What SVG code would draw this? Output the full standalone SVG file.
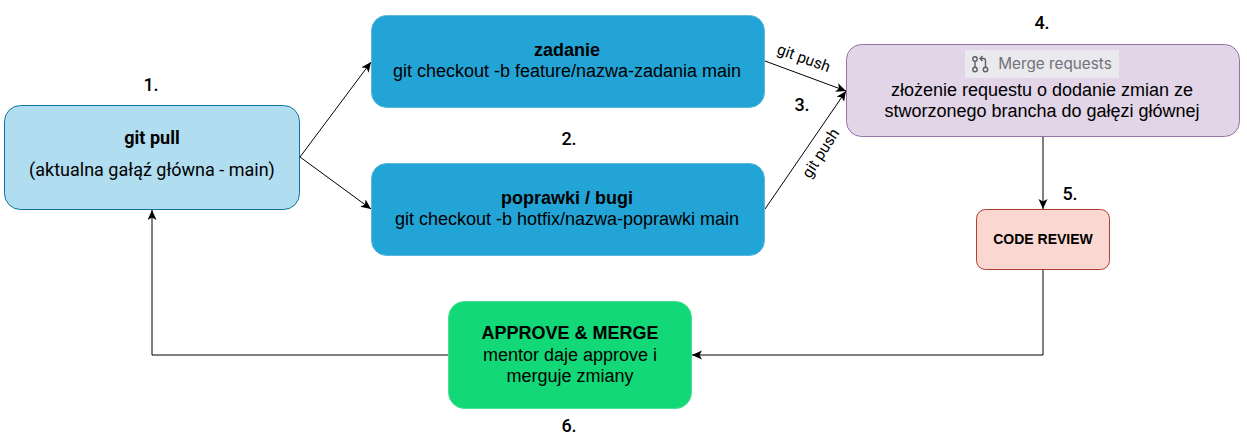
<svg xmlns="http://www.w3.org/2000/svg" width="1247" height="442" viewBox="0 0 1247 442">
<defs>
<marker id="arr" markerUnits="userSpaceOnUse" markerWidth="11" markerHeight="10" refX="10" refY="4.500" orient="auto"><path d="M0,0 L10,4.500 L0,9 L2.500,4.500 Z" fill="#000"/></marker>
</defs>
<style>
text{font-family:"Liberation Sans",Arial,sans-serif;font-size:18px;text-anchor:middle;fill:#000}
.r{font-family:Roboto,"Liberation Sans",sans-serif}
.b{font-weight:bold}
.n{font-family:Roboto,"Liberation Sans",sans-serif;font-weight:500}
.p{font-size:15.500px}
.c{fill:none;stroke:#000;stroke-width:1;marker-end:url(#arr)}
</style>
<rect width="1247" height="442" fill="#fff"/>
<g id="connectors">
<path class="c" d="M300,157 L371,62"/>
<path class="c" d="M300,157 L371,209"/>
<path class="c" d="M765,61 L846,91"/>
<path class="c" d="M765,209 L846,91"/>
<path class="c" d="M1043,136 L1043,209"/>
<path class="c" d="M1043,269 L1043,355 L692,355"/>
<path class="c" d="M449,355 L152,355 L152,210"/>
</g>
<g id="labels">
<text class="r p" transform="translate(802,63) rotate(20)">git push</text>
<text class="r p" transform="translate(825,156) rotate(-57)">git push</text>
<text class="n" x="151" y="91">1.</text>
<text class="n" x="569" y="145">2.</text>
<text class="n" x="802" y="111">3.</text>
<text class="n" x="1042" y="29">4.</text>
<text class="n" x="1070" y="200">5.</text>
<text class="n" x="569" y="432">6.</text>
</g>
<g id="git-pull">
<rect x="4.500" y="105.500" width="295" height="104" rx="16" fill="#b1ddf0" stroke="#10739e"/>
<text class="r" x="152" y="144" style="font-weight:700">git pull</text>
<text class="r" x="152" y="176">(aktualna gałąź główna - main)</text>
</g>
<g id="zadanie">
<rect x="371.500" y="15.500" width="393" height="92" rx="15" fill="#23a4d6" stroke="#5cb8dd"/>
<text class="b" x="567" y="56">zadanie</text>
<text x="567" y="77">git checkout -b feature/nazwa-zadania main</text>
</g>
<g id="poprawki">
<rect x="371.500" y="163.500" width="393" height="92" rx="15" fill="#23a4d6" stroke="#5cb8dd"/>
<text class="b" x="567" y="204">poprawki / bugi</text>
<text x="567" y="225">git checkout -b hotfix/nazwa-poprawki main</text>
</g>
<g id="merge-request">
<rect x="846.500" y="44.500" width="393" height="92" rx="15" fill="#e1d5e7" stroke="#9673a6"/>
<rect x="965" y="50" width="154" height="28" fill="#e9e9ee"/>
<g fill="none" stroke="#5f5e66" stroke-width="1.400"><circle cx="975" cy="59" r="2.200"/><circle cx="975" cy="69.500" r="2.200"/><circle cx="985.500" cy="69.500" r="2.200"/><path d="M975,61.200V67.300M985.500,67.300V60.500Q985.500,58.500 983.500,58.500H980.500M982.500,56L980,58.500L982.500,61"/></g>
<text x="1055" y="69" style="font-family:Inter,'Noto Sans',sans-serif;font-size:15.300px;fill:#737278">Merge requests</text>
<text x="1042" y="96">złożenie requestu o dodanie zmian ze</text>
<text x="1042" y="117">stworzonego brancha do gałęzi głównej</text>
</g>
<g id="code-review">
<rect x="976.500" y="209.500" width="133" height="60" rx="9" fill="#fad7d1" stroke="#ae4132"/>
<text class="b" x="1043" y="244" style="font-size:14px">CODE REVIEW</text>
</g>
<g id="approve">
<rect x="448.500" y="301.500" width="243" height="107" rx="16" fill="#12d877" stroke="#45e090"/>
<text class="b" x="570" y="339">APPROVE &amp; MERGE</text>
<text x="570" y="361">mentor daje approve i</text>
<text x="570" y="382">merguje zmiany</text>
</g>
</svg>
